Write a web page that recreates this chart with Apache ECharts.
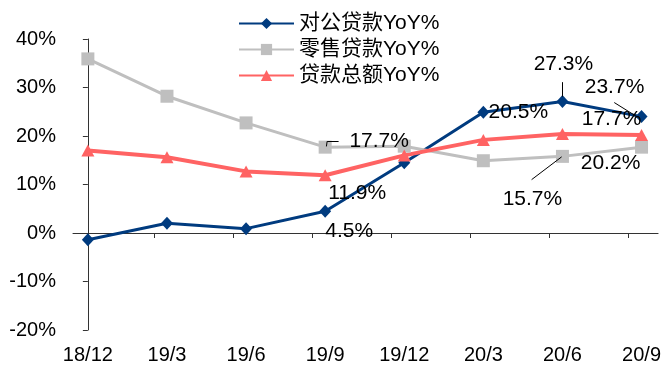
<!DOCTYPE html>
<html><head><meta charset="utf-8">
<script src="https://cdn.jsdelivr.net/npm/echarts@6/dist/echarts.min.js"></script>
<style>html,body{margin:0;padding:0;background:#fff}#c{width:664px;height:365px}</style>
</head><body><div id="c"></div>
<script>
var categories = ['18/12','19/3','19/6','19/9','19/12','20/3','20/6','20/9'];
var corporate = [-1.4, 2.0, 0.9, 4.5, 14.5, 24.9, 27.1, 24.0];
var retail = [35.9, 28.2, 22.7, 17.7, 17.9, 14.9, 15.8, 17.7];
var total = [17.0, 15.6, 12.7, 11.9, 16.0, 19.2, 20.4, 20.2];
var corpLabels = [null, null, null, '4.5%', null, '20.5%', '27.3%', '23.7%'];
var retailLabels = [null, null, null, '17.7%', null, null, '15.7%', '17.7%'];
var totalLabels = [null, null, null, '11.9%', null, null, null, '20.2%'];
var yTicks = [-20, -10, 0, 10, 20, 30, 40];
var names = ['对公贷款YoY%', '零售贷款YoY%', '贷款总额YoY%'];

var FONT = 'Liberation Sans, Arial, Noto Sans CJK SC, sans-serif';
var offsets = {
  corp: {3: [24, 20], 5: [35, 0], 6: [1, -37], 7: [-27, -29]},
  retail: {3: [54, -6], 6: [-30, 43], 7: [-30, -28]},
  total: {3: [32, 18], 7: [-31, 28]}
};
function build(vals, labels, offs) {
  return vals.map(function (v, i) {
    var d = {value: [i, v]};
    if (labels[i]) {
      d.label = {show: true, position: 'inside', formatter: labels[i], offset: offs[i],
        fontSize: 21, color: '#000', fontFamily: FONT};
    }
    return d;
  });
}
var X0 = -0.188, X1 = 7.209;
var tickVals = categories.slice(0, 7).map(function (c, i) { return i + 0.835; });
var labelVals = categories.map(function (c, i) { return i; });
var chart = echarts.init(document.getElementById('c'));
var leader = {color: '#000', width: 1, type: 'solid'};
chart.setOption({
  animation: false,
  grid: {left: 73, right: 0, top: 39, bottom: 33},
  legend: {
    orient: 'vertical', left: 233, top: 8, itemWidth: 55, itemHeight: 14, itemGap: 5,
    data: names,
    textStyle: {fontSize: 21, color: '#000', fontFamily: FONT}
  },
  xAxis: [{
    type: 'value', min: X0, max: X1,
    axisLine: {onZero: true, lineStyle: {color: '#333', width: 1}},
    axisTick: {show: true, inside: false, length: 5, customValues: tickVals, lineStyle: {color: '#333'}},
    axisLabel: {show: false},
    splitLine: {show: false}
  }, {
    type: 'value', min: X0, max: X1, position: 'bottom',
    axisLine: {show: false}, axisTick: {show: false}, splitLine: {show: false},
    axisLabel: {show: true, customValues: labelVals, margin: 15, fontSize: 20, color: '#000', fontFamily: FONT,
      formatter: function (v) { return categories[Math.round(v)]; }}
  }],
  yAxis: {
    type: 'value', min: yTicks[0], max: yTicks[yTicks.length - 1], interval: 10,
    axisLine: {show: true, lineStyle: {color: '#333', width: 1}},
    axisTick: {show: true, inside: false, length: 5, lineStyle: {color: '#333'}},
    axisLabel: {margin: 17, fontSize: 20, color: '#000', fontFamily: FONT, formatter: '{value}%'},
    splitLine: {show: false}
  },
  series: [{
    name: names[0], type: 'line', xAxisIndex: 0,
    data: build(corporate, corpLabels, offsets.corp),
    symbol: 'diamond', symbolSize: [12, 13], showAllSymbol: true,
    itemStyle: {color: '#003B7F'}, lineStyle: {color: '#003B7F', width: 3},
    markLine: {silent: true, symbol: 'none', label: {show: false}, lineStyle: leader, animation: false,
      data: [
        [{coord: [6.0, 31.1]}, {coord: [6.0, 28.1]}],
        [{coord: [6.655, 26.9]}, {coord: [6.94, 24.0]}]
      ]}
  }, {
    name: names[1], type: 'line', xAxisIndex: 0,
    data: build(retail, retailLabels, offsets.retail),
    symbol: 'rect', symbolSize: 13, showAllSymbol: true,
    itemStyle: {color: '#BFBFBF'}, lineStyle: {color: '#BFBFBF', width: 3},
    markLine: {silent: true, symbol: 'none', label: {show: false}, lineStyle: leader, animation: false,
      data: [
        [{coord: [5.61, 11.0]}, {coord: [5.99, 15.7]}],
        [{coord: [3.016, 17.85]}, {coord: [3.025, 18.9]}],
        [{coord: [3.025, 18.9]}, {coord: [3.17, 18.9]}]
      ]}
  }, {
    name: names[2], type: 'line', xAxisIndex: 0,
    data: build(total, totalLabels, offsets.total),
    symbol: 'triangle', symbolSize: [13, 12], showAllSymbol: true,
    itemStyle: {color: '#FF6363'}, lineStyle: {color: '#FF6363', width: 4}
  }]
});
</script></body></html>
